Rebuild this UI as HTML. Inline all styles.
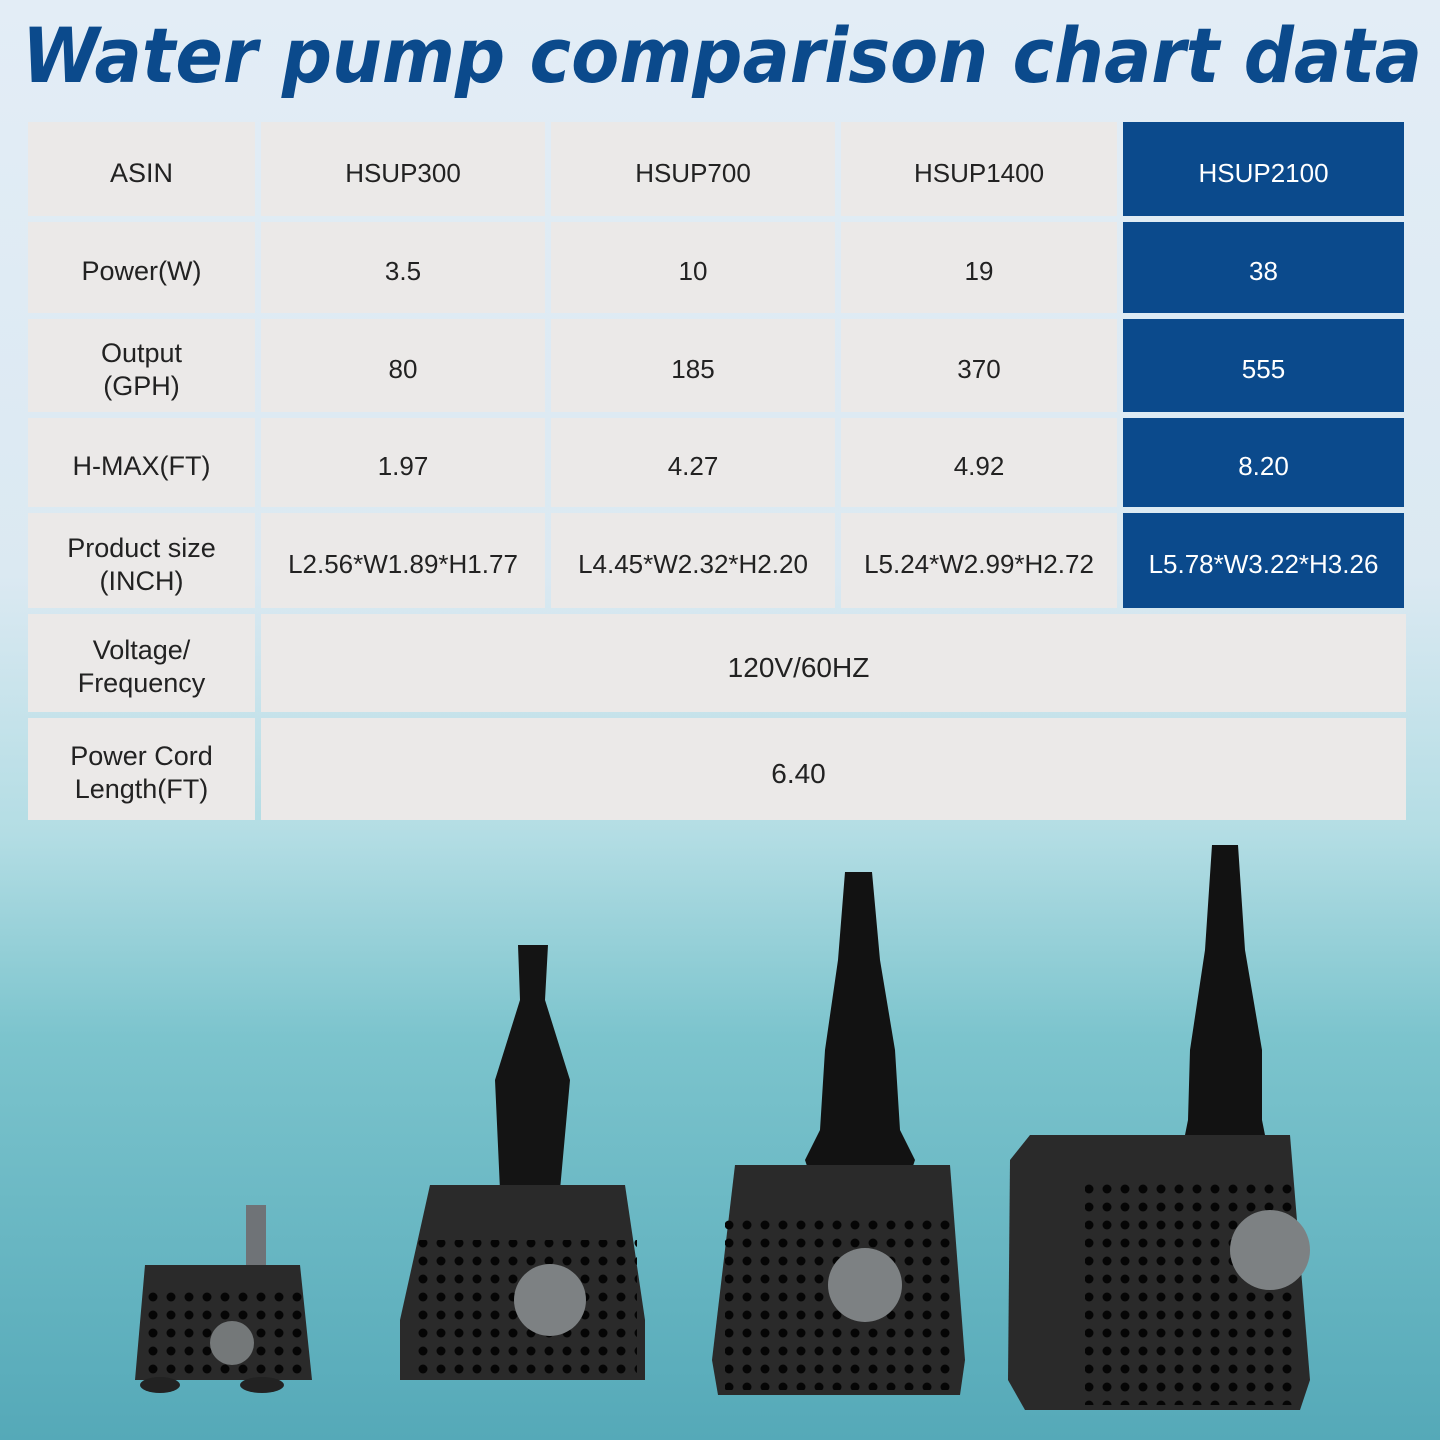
<!DOCTYPE html>
<html><head><style>
body{margin:0;width:1440px;height:1440px;overflow:hidden;background:linear-gradient(180deg,#e3edf6 0%,#dbe9f2 40%,#b3dde4 58%,#7cc4cd 72%,#55a9b8 100%);font-family:"Liberation Sans",sans-serif;position:relative}
.c{position:absolute;box-sizing:border-box;padding-top:8px;background:#ebe9e8;color:#222;font-size:26px;display:flex;align-items:center;justify-content:center;text-align:center;line-height:33px}
.b{background:#0b4a8c;color:#fff}
</style></head><body>
<svg width="1440" height="110" style="position:absolute;left:0;top:0">
<text x="22" y="82" textLength="1400" lengthAdjust="spacingAndGlyphs" font-family="DejaVu Sans, Liberation Sans, sans-serif" font-weight="bold" font-style="italic" font-size="76" fill="#0b4a8c">Water pump comparison chart data</text>
</svg>
<div id="t"></div>
<svg width="1440" height="620" style="position:absolute;left:0;top:820">
<defs><pattern id="d" width="18" height="18" patternUnits="userSpaceOnUse"><circle cx="9" cy="9" r="4.5" fill="#050505"/></pattern></defs>
<!-- pump1 -->
<rect x="246" y="385" width="20" height="80" fill="#6f7377"/>
<path d="M145 445 L300 445 L312 560 L135 560Z" fill="#2a2a2a"/>
<rect x="140" y="470" width="165" height="85" fill="url(#d)"/>
<circle cx="232" cy="523" r="22" fill="#747879"/>
<ellipse cx="160" cy="565" rx="20" ry="8" fill="#222"/><ellipse cx="262" cy="565" rx="22" ry="8" fill="#222"/>
<!-- pump2 -->
<path d="M518 125 L548 125 L545 180 L570 260 L560 370 L500 370 L495 260 L520 180Z" fill="#141414"/>
<path d="M430 365 L625 365 L645 500 L645 560 L400 560 L400 500Z" fill="#2a2a2a"/>
<rect x="412" y="420" width="225" height="135" fill="url(#d)"/>
<circle cx="550" cy="480" r="36" fill="#7d8183"/>
<!-- pump3 -->
<path d="M845 52 L872 52 L880 140 L895 230 L900 310 L915 340 L905 370 L815 370 L805 340 L820 310 L825 230 L838 140Z" fill="#121212"/>
<path d="M735 345 L950 345 L965 540 L960 575 L718 575 L712 540Z" fill="#2a2a2a"/>
<rect x="725" y="395" width="230" height="175" fill="url(#d)"/>
<circle cx="865" cy="465" r="37" fill="#7d8183"/>
<!-- pump4 -->
<path d="M1212 25 L1238 25 L1245 130 L1262 230 L1262 300 L1270 340 L1180 340 L1188 300 L1190 230 L1205 130Z" fill="#121212"/>
<path d="M1030 315 L1290 315 L1310 560 L1300 590 L1025 590 L1008 560 L1010 340Z" fill="#2a2a2a"/>
<rect x="1085" y="360" width="215" height="225" fill="url(#d)"/>
<circle cx="1270" cy="430" r="40" fill="#7d8183"/>
</svg>
<script>
var cols=[[28,227],[261,284],[551,284],[841,276],[1123,281]];
var rows=[[122,94],[222,91],[319,93],[418,89],[513,95],[614,98],[718,102]];
var data=[["ASIN","HSUP300","HSUP700","HSUP1400","HSUP2100"],
["Power(W)","3.5","10","19","38"],
["Output<br>(GPH)","80","185","370","555"],
["H-MAX(FT)","1.97","4.27","4.92","8.20"],
["Product size<br>(INCH)","L2.56*W1.89*H1.77","L4.45*W2.32*H2.20","L5.24*W2.99*H2.72","L5.78*W3.22*H3.26"],
["Voltage/<br>Frequency","120V/60HZ"],["Power Cord<br>Length(FT)","6.40"]];
var h="";
for(var r=0;r<7;r++){for(var c=0;c<data[r].length;c++){var x=cols[c][0],w=cols[c][1],ex='';
if(data[r].length==2&&c==1){w=1406-261;ex='padding-right:70px;font-size:28px;';}
h+='<div class="c'+(c==4?' b':'')+'" style="left:'+x+'px;top:'+rows[r][0]+'px;width:'+w+'px;height:'+rows[r][1]+'px;'+ex+(c==0?'font-size:27px;':'')+'">'+data[r][c]+'</div>';}}
document.getElementById('t').innerHTML=h;
</script>
</body></html>
